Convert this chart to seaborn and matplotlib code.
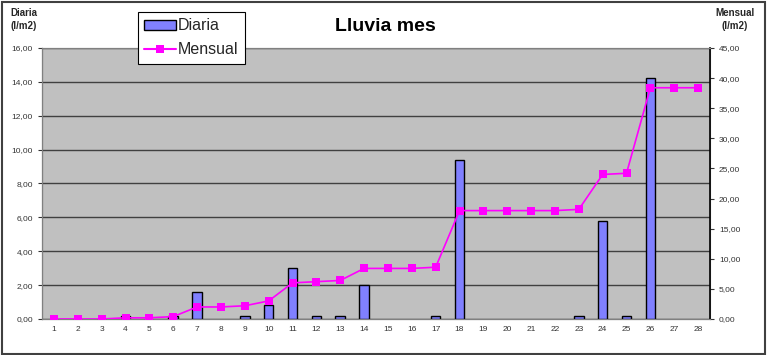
"""Lluvia mes: daily rain bars + monthly cumulative line"""

import pandas as pd
import matplotlib.pyplot as plt
import seaborn as sns
from matplotlib.ticker import FuncFormatter, MultipleLocator
from matplotlib.patches import Rectangle
from matplotlib.lines import Line2D

#####################################################################
# data
dias = list(range(1, 29))
diaria = [0, 0, 0, 0.2, 0, 0.2, 1.6, 0, 0.2, 0.8, 3.0, 0.2, 0.2, 2.0,
          0, 0, 0.2, 9.4, 0, 0, 0, 0, 0.2, 5.8, 0.2, 14.2, 0, 0]
mensual = [0, 0, 0, 0.2, 0.2, 0.4, 2.0, 2.0, 2.2, 3.0, 6.0, 6.2, 6.4, 8.4,
           8.4, 8.4, 8.6, 18.0, 18.0, 18.0, 18.0, 18.0, 18.2, 24.0, 24.2,
           38.4, 38.4, 38.4]

df = pd.DataFrame({'dia': dias, 'diaria': diaria, 'mensual': mensual})
df['pos'] = range(len(df))

#####################################################################
# plotting
sns.set_style("white")
plt.rcParams['font.family'] = ['Liberation Sans', 'DejaVu Sans']

fig = plt.figure(figsize=(7.67, 3.55), dpi=100)
ax = fig.add_axes([0.0548, 0.1014, 0.8709, 0.7634])
ax2 = ax.twinx()

ax.set_facecolor('#C0C0C0')
sns.barplot(data=df, x='dia', y='diaria', color='#8080FF', saturation=1,
            width=0.4, edgecolor='black', linewidth=1, ax=ax, zorder=3)
# zero days have no bar in the original
for p in ax.patches:
    if p.get_height() == 0:
        p.set_visible(False)
sns.lineplot(data=df, x='pos', y='mensual', color='#FF00FF', marker='s',
             markersize=6, markeredgewidth=0, linewidth=1.2, ax=ax2, zorder=4)

ax.set_xlim(-0.5, len(df) - 0.5)
ax.set_ylim(0, 16)
ax2.set_ylim(0, 45)
ax.yaxis.set_major_locator(MultipleLocator(2))
ax2.yaxis.set_major_locator(MultipleLocator(5))
fmt = FuncFormatter(lambda v, p: f"{v:.2f}".replace('.', ','))
ax.yaxis.set_major_formatter(fmt)
ax2.yaxis.set_major_formatter(fmt)

ax.grid(axis='y', color='#404040', linewidth=1, zorder=0)
ax.set_axisbelow(True)

# excel-like ticks between categories
ax.set_xticks([p - 0.5 for p in df['pos']] + [len(df) - 0.5], minor=True)
ax.tick_params(axis='x', which='minor', length=3, color='#404040', direction='out')
ax.tick_params(axis='x', which='major', length=0, labelsize=6, pad=5, colors='#333333')
ax.tick_params(axis='y', length=3, labelsize=6, colors='#333333', direction='out', left=True)
ax2.tick_params(axis='y', length=3, labelsize=6, colors='#333333', direction='out', right=True)
ax.set_xlabel('')
ax.set_ylabel('')
ax2.set_ylabel('')

for a in (ax, ax2):
    for s in a.spines.values():
        s.set_color('#808080')
        s.set_linewidth(0.8)
ax.spines['bottom'].set_color('#404040')
ax.spines['left'].set_color('#404040')
ax2.spines['right'].set_color('black')
ax2.spines['right'].set_linewidth(1.2)

fig.text(0.502, 0.925, 'Lluvia mes', ha='center', va='center', fontsize=14,
         fontweight='bold', color='black')
fig.text(0.031, 0.945, 'Diaria\n(l/m2)', ha='center', va='center', fontsize=7,
         fontweight='bold', linespacing=1.3)
fig.text(0.958, 0.945, 'Mensual\n(l/m2)', ha='center', va='center', fontsize=7,
         fontweight='bold', linespacing=1.3)

# legend
handles = [Rectangle((0, 0), 1, 1, facecolor='#8080FF', edgecolor='black'),
           Line2D([], [], color='#FF00FF', marker='s', markersize=6, markeredgewidth=0)]
leg = fig.legend(handles, ['Diaria', 'Mensual'], loc='upper left',
                 bbox_to_anchor=(0.180, 0.966), fontsize=11.5, frameon=True,
                 fancybox=False, edgecolor='black', framealpha=1,
                 handlelength=2.0, handleheight=0.6, handletextpad=0.1,
                 borderpad=0.4, labelspacing=0.55, borderaxespad=0)
leg.get_frame().set_linewidth(0.8)

# outer frame
fig.patches.append(Rectangle((0.002, 0.004), 0.996, 0.99, transform=fig.transFigure,
                             fill=False, edgecolor='#404040', linewidth=1.5))

plt.savefig('out.png', dpi=100)
